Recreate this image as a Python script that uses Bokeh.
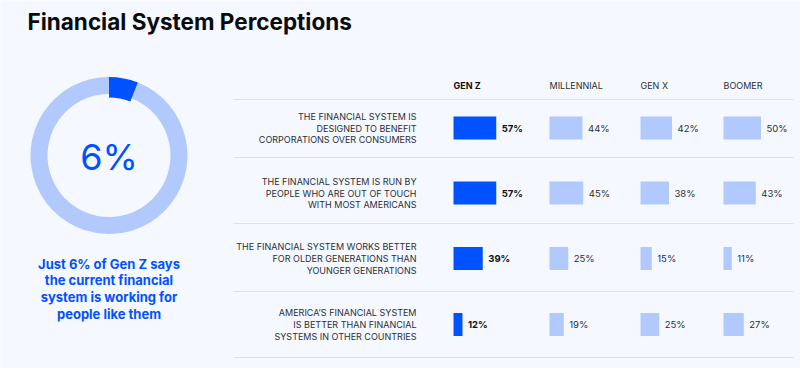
from bokeh.plotting import figure
from bokeh.models import Range1d, ColumnDataSource
from bokeh.core.properties import value
from bokeh.embed import file_html
from bokeh.resources import INLINE
import math

# ---------------- data ----------------
title = "Financial System Perceptions"
headline_pct = 6
headline_text = ["Just 6% of Gen Z says", "the current financial",
                 "system is working for", "people like them"]
generations = ["GEN Z", "MILLENNIAL", "GEN X", "BOOMER"]
statements = [
    ["THE FINANCIAL SYSTEM IS", "DESIGNED TO BENEFIT", "CORPORATIONS OVER CONSUMERS"],
    ["THE FINANCIAL SYSTEM IS RUN BY", "PEOPLE WHO ARE OUT OF TOUCH", "WITH MOST AMERICANS"],
    ["THE FINANCIAL SYSTEM WORKS BETTER", "FOR OLDER GENERATIONS THAN", "YOUNGER GENERATIONS"],
    ["AMERICA\u2019S FINANCIAL SYSTEM", "IS BETTER THAN FINANCIAL", "SYSTEMS IN OTHER COUNTRIES"],
]
gen_z = [57, 57, 39, 12]
millennial = [44, 45, 25, 19]
gen_x = [42, 38, 15, 25]
boomer = [50, 43, 11, 27]
series = [gen_z, millennial, gen_x, boomer]

# ---------------- style / layout ----------------
BG = "#f5f8ff"
BLUE = "#0052ff"
LIGHT = "#b1c9fd"
DARK = "#2b2f36"
FONT = "Inter"

W, H = 800, 368
def Y(img_y):
    return H - img_y

p = figure(width=W, height=H, output_backend="svg", toolbar_location=None,
           x_range=Range1d(0, W), y_range=Range1d(0, H),
           min_border=0, outline_line_color=None)
p.axis.visible = False
p.grid.visible = False
p.background_fill_color = BG
p.border_fill_color = BG

# title
p.text(x=[27], y=[Y(21)], text=[title], text_font=value(FONT), text_font_size="22.5px",
       text_font_style="bold", text_color="#0a0b0d", text_baseline="middle", text_align="left")

# donut
cx, cy = 108.5, Y(155)
frac = headline_pct / 100.0
p.annular_wedge(x=[cx], y=[cy], inner_radius=61.5, outer_radius=78.5,
                start_angle=math.pi / 2, end_angle=math.pi / 2 - frac * 2 * math.pi,
                direction="anticlock", color=LIGHT, line_color=None)
p.annular_wedge(x=[cx], y=[cy], inner_radius=58, outer_radius=78.5,
                start_angle=math.pi / 2 - frac * 2 * math.pi, end_angle=math.pi / 2,
                direction="anticlock", color=BLUE, line_color=None)
p.text(x=[cx], y=[Y(156)], text=[f"{headline_pct}%"], text_font=value(FONT),
       text_font_size="36px", text_color=BLUE, text_align="center", text_baseline="middle")

# caption
for i, line in enumerate(headline_text):
    p.text(x=[108.5], y=[Y(263 + i * 16.8)], text=[line], text_font=value(FONT),
           text_font_size="13px", text_font_style="bold", text_color=BLUE,
           text_align="center", text_baseline="middle")

# table geometry
col_left = [453, 549, 640, 723]
row_mid = [127.5, 192.5, 258, 324]
rule_y = [99, 157, 223, 291, 357]
bar_h = 23
px_per_pct = 0.75

# headers
for j, g in enumerate(generations):
    p.text(x=[col_left[j]], y=[Y(85)], text=[g], text_font=value(FONT),
           text_font_size="9px", text_font_style="bold" if j == 0 else "normal",
           text_color="#111" if j == 0 else DARK, text_align="left", text_baseline="middle")

# rules
p.segment(x0=[233] * len(rule_y), x1=[793] * len(rule_y),
          y0=[Y(v) for v in rule_y], y1=[Y(v) for v in rule_y],
          line_color="#dce1ec", line_width=1.2)

# statements
for i, lines in enumerate(statements):
    for k, line in enumerate(lines):
        p.text(x=[416], y=[Y(row_mid[i] - 11.7 + k * 11.7)], text=[line],
               text_font=value(FONT), text_font_size="9px", text_color=DARK,
               text_align="right", text_baseline="middle")

# bars + labels
for j, vals in enumerate(series):
    left = [col_left[j]] * len(vals)
    right = [col_left[j] + v * px_per_pct for v in vals]
    src = ColumnDataSource(dict(
        left=left, right=right, y=[Y(r) for r in row_mid],
        lx=[r + 5.5 for r in right], lab=[f"{v}%" for v in vals]))
    p.hbar(y="y", left="left", right="right", height=bar_h, source=src,
           fill_color=BLUE if j == 0 else LIGHT, line_color=None)
    p.text(x="lx", y="y", text="lab", source=src, text_font=value(FONT),
           text_font_size="9.5px", text_font_style="bold" if j == 0 else "normal",
           text_color="#111" if j == 0 else DARK, text_align="left", text_baseline="middle")

open("out.html", "w").write(file_html(p, INLINE))
